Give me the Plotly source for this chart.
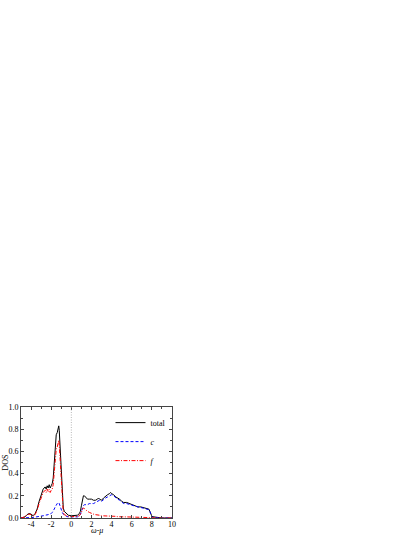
import plotly.graph_objects as go

# shared energy grid (omega - mu)
w = [-5.0, -4.6, -4.4, -4.2, -4.0, -3.8, -3.6, -3.4, -3.2, -3.0, -2.8, -2.6, -2.5, -2.4, -2.3, -2.2,
     -2.1, -2.0, -1.9, -1.8, -1.7, -1.6, -1.5, -1.4, -1.3, -1.25, -1.2, -1.1, -1.0, -0.9, -0.8,
     -0.7, -0.5, -0.3, 0.0, 0.3, 0.6, 0.8, 0.9, 1.0, 1.1, 1.2, 1.3, 1.4, 1.6, 1.8, 2.0, 2.2, 2.4,
     2.6, 2.7, 2.8, 3.0, 3.2, 3.4, 3.6, 3.8, 3.9, 4.0, 4.2, 4.4, 4.6, 4.8, 5.0, 5.2, 5.5, 5.8,
     6.0, 6.3, 6.6, 6.9, 7.2, 7.5, 7.7, 7.8, 7.9, 8.0, 8.2, 8.5, 9.0, 10.0]

total = [0.0, 0.01, 0.03, 0.04, 0.035, 0.02, 0.04, 0.08, 0.15, 0.21, 0.26, 0.28, 0.26, 0.29, 0.27, 0.30,
         0.27, 0.29, 0.31, 0.36, 0.47, 0.62, 0.75, 0.77, 0.80, 0.83, 0.79, 0.60, 0.34, 0.16, 0.09,
         0.06, 0.04, 0.025, 0.02, 0.02, 0.025, 0.04, 0.06, 0.11, 0.17, 0.20, 0.20, 0.19, 0.17, 0.17, 0.17, 0.16, 0.16,
         0.17, 0.18, 0.17, 0.16, 0.18, 0.20, 0.21, 0.22, 0.23, 0.22, 0.21, 0.19, 0.18, 0.17, 0.15, 0.14, 0.14, 0.13,
         0.12, 0.11, 0.10, 0.10, 0.09, 0.085, 0.08, 0.06, 0.03, 0.015, 0.01, 0.005, 0.0, 0.0]

c_dos = [0.0, 0.0, 0.0, 0.005, 0.005, 0.005, 0.008, 0.01, 0.012, 0.015, 0.02, 0.025, 0.025, 0.03, 0.03, 0.035,
         0.035, 0.04, 0.05, 0.06, 0.08, 0.10, 0.12, 0.13, 0.14, 0.14, 0.13, 0.10, 0.07, 0.05, 0.035,
         0.025, 0.015, 0.01, 0.008, 0.008, 0.01, 0.02, 0.03, 0.06, 0.09, 0.11, 0.12, 0.12, 0.12, 0.13, 0.13, 0.13, 0.14,
         0.15, 0.16, 0.16, 0.15, 0.17, 0.18, 0.19, 0.20, 0.21, 0.21, 0.20, 0.18, 0.17, 0.16, 0.14, 0.13, 0.13, 0.12,
         0.12, 0.11, 0.10, 0.095, 0.09, 0.08, 0.075, 0.06, 0.03, 0.01, 0.005, 0.003, 0.0, 0.0]

f_dos = [0.0, 0.01, 0.03, 0.035, 0.03, 0.015, 0.03, 0.07, 0.13, 0.19, 0.23, 0.25, 0.23, 0.26, 0.24, 0.26,
         0.23, 0.25, 0.26, 0.30, 0.39, 0.52, 0.62, 0.64, 0.68, 0.70, 0.66, 0.50, 0.27, 0.11, 0.05,
         0.03, 0.02, 0.015, 0.012, 0.012, 0.015, 0.02, 0.03, 0.05, 0.08, 0.09, 0.085, 0.075, 0.06, 0.05, 0.04, 0.035, 0.03,
         0.03, 0.025, 0.025, 0.02, 0.02, 0.02, 0.02, 0.02, 0.02, 0.015, 0.015, 0.015, 0.012, 0.01, 0.01, 0.01, 0.01, 0.01,
         0.008, 0.008, 0.006, 0.005, 0.005, 0.004, 0.004, 0.003, 0.002, 0.002, 0.001, 0.0, 0.0, 0.0]

x_ticks = [-4, -2, 0, 2, 4, 6, 8, 10]
x_labels = ["-4", "-2", "0", "2", "4", "6", "8", "10"]
y_ticks = [0.0, 0.2, 0.4, 0.6, 0.8, 1.0]

serif = "Liberation Serif"

fig = go.Figure()
fig.add_trace(go.Scatter(x=w, y=total, mode="lines", name="total",
                         line=dict(color="black", width=1)))
fig.add_trace(go.Scatter(x=w, y=c_dos, mode="lines", name="<i>c</i>",
                         line=dict(color="#0000ff", width=1, dash="3px,2px")))
fig.add_trace(go.Scatter(x=w, y=f_dos, mode="lines", name="<i>f</i>",
                         line=dict(color="#ff0000", width=1, dash="4px,1.5px,1px,1.5px")))

# fermi level marker
fig.add_vline(x=0, line=dict(color="#999999", width=0.7, dash="1px,1.5px"))

axis_common = dict(showline=True, linecolor="#444", linewidth=0.8, mirror="allticks",
                   ticks="inside", ticklen=3, tickcolor="#444", showgrid=False, zeroline=False,
                   tickfont=dict(family=serif, size=8, color="black"))

fig.update_xaxes(range=[-5, 10], tickvals=x_ticks, ticktext=x_labels, ticklabelstandoff=-2,
                 minor=dict(dtick=1, tick0=0, ticks="inside", ticklen=2, tickcolor="#444"),
                 **axis_common)
fig.update_yaxes(range=[0, 1.0], tickvals=y_ticks, tickformat=".1f",
                 minor=dict(dtick=0.1, ticks="inside", ticklen=2, tickcolor="#444"),
                 **axis_common)

fig.add_annotation(text="<i>ω-μ</i>", xref="paper", yref="paper", x=0.5, y=-0.115,
                   showarrow=False, yanchor="middle", font=dict(family=serif, size=8, color="black"))
fig.add_annotation(text="DOS", xref="paper", yref="paper", x=-0.105, y=0.5, textangle=-90,
                   showarrow=False, xanchor="center", font=dict(family=serif, size=8, color="black"))

fig.update_layout(
    width=414, height=535,
    margin=dict(l=21, r=242, t=407, b=17, autoexpand=False),
    plot_bgcolor="white", paper_bgcolor="white",
    showlegend=True,
    legend=dict(x=0.99, y=0.99, xanchor="right", yanchor="top", bgcolor="rgba(0,0,0,0)",
                font=dict(family=serif, size=8, color="black"), itemwidth=30,
                tracegroupgap=0),
)

fig.write_html("out.html", config={"displayModeBar": False},
               post_script="document.body.style.margin='0';")
